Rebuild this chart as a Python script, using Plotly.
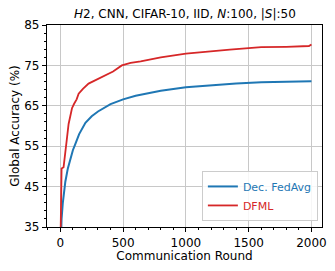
import plotly.graph_objects as go

title_text = "<i>H</i>2, CNN, CIFAR-10, IID, <i>N</i>:100, |<i>S</i>|:50"

fedavg_rounds = [0, 10, 20, 40, 60, 80, 100, 120, 150, 200, 250, 300, 350, 400, 500, 600, 700,
                 800, 1000, 1200, 1400, 1600, 1800, 2000]
fedavg_acc = [26, 37, 41, 46.2, 49.5, 52.0, 54.0, 55.6, 58.0, 60.8, 62.4, 63.6, 64.6, 65.4, 66.6,
              67.5, 68.1, 68.7, 69.6, 70.1, 70.5, 70.8, 71.0, 71.1]

dfml_rounds = [0, 5, 10, 26, 35, 45, 53, 66, 80, 93, 110, 130, 146, 180, 225, 280, 358, 420, 490,
               560, 640, 800, 1000, 1200, 1300, 1350, 1500, 1600, 1800, 1980, 2000]
dfml_acc = [28, 40, 49.5, 49.8, 51.8, 54.5, 57.0, 60.5, 62.2, 64.4, 65.5, 66.6, 68.0, 69.2, 70.5,
            71.3, 72.6, 73.5, 75.0, 75.6, 76.0, 77.0, 77.9, 78.4, 78.6, 78.9, 79.3, 79.5, 79.6,
            79.8, 80.2]

x_ticks = [0, 500, 1000, 1500, 2000]
y_ticks = [35, 45, 55, 65, 75, 85]

blue = "#1f77b4"
red = "#d62728"
font = "DejaVu Sans"

fig = go.Figure()
fig.add_trace(go.Scatter(x=fedavg_rounds, y=fedavg_acc, mode="lines",
                         name=f"<span style='color:{blue}'>Dec. FedAvg</span>",
                         line=dict(color=blue, width=2)))
fig.add_trace(go.Scatter(x=dfml_rounds, y=dfml_acc, mode="lines",
                         name=f"<span style='color:{red}'>DFML</span>",
                         line=dict(color=red, width=1.8)))

axis_common = dict(showline=True, linecolor="black", linewidth=1.2, mirror=True,
                   ticks="outside", ticklen=4, tickcolor="black", automargin=False,
                   showgrid=True, gridcolor="#c8c8c8", gridwidth=1, zeroline=False,
                   tickfont=dict(family=font, size=12, color="black"))

fig.update_layout(
    width=327, height=263,
    margin=dict(l=39, r=13, t=17, b=44),
    paper_bgcolor="white", plot_bgcolor="white",
    font=dict(family=font, size=12, color="black"),
    title=dict(text=title_text, x=0.541, xanchor="center", y=0.977, yanchor="middle",
               font=dict(family=font, size=12, color="black")),
    xaxis=dict(range=[-106, 2084], tickvals=x_ticks,
               title=dict(text="Communication Round", font=dict(family=font, size=12), standoff=3),
               minor=dict(dtick=100, tick0=0, ticks="outside", ticklen=2, tickcolor="black", showgrid=False),
               **axis_common),
    yaxis=dict(range=[35, 85], tickvals=y_ticks,
               title=dict(text="Global Accuracy (%)", font=dict(family=font, size=12), standoff=6),
               minor=dict(dtick=2, tick0=35, ticks="outside", ticklen=2, tickcolor="black", showgrid=False),
               **axis_common),
    legend=dict(x=0.985, y=0.03, xanchor="right", yanchor="bottom",
                bgcolor="rgba(255,255,255,0.85)", bordercolor="#cccccc", borderwidth=1,
                font=dict(family=font, size=11), tracegroupgap=0, itemwidth=30),
    showlegend=True,
)

fig.write_html("out.html")
